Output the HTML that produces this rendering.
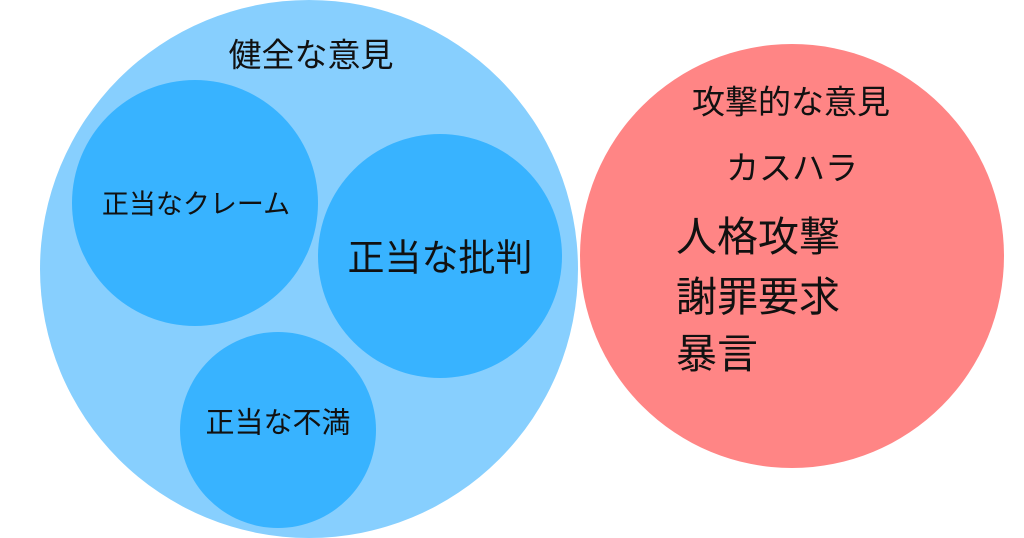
<!DOCTYPE html>
<html><head><meta charset="utf-8"><style>
html,body{margin:0;padding:0;background:#fff;}
body{width:1024px;height:538px;position:relative;overflow:hidden;font-family:"Liberation Sans","Noto Sans CJK JP",sans-serif;color:#111;}
.c{position:absolute;border-radius:50%;}
.t{position:absolute;white-space:nowrap;transform:translate(-50%,-50%);line-height:1;}
.l{position:absolute;white-space:nowrap;line-height:1;}
</style></head><body>
<div class="c" style="left:40px;top:0;width:538px;height:538px;background:#87cffe;"></div>
<div class="c" style="left:72px;top:80px;width:246px;height:246px;background:#38b3ff;"></div>
<div class="c" style="left:318px;top:134px;width:244px;height:244px;background:#38b3ff;"></div>
<div class="c" style="left:180px;top:332px;width:196px;height:196px;background:#38b3ff;"></div>
<div class="c" style="left:580px;top:44px;width:424px;height:424px;background:#ff8585;"></div>
<div class="t" style="left:311px;top:55px;font-size:33px;">健全な意見</div>
<div class="t" style="left:196px;top:205px;font-size:27px;">正当なクレーム</div>
<div class="t" style="left:440px;top:258px;font-size:37px;">正当な批判</div>
<div class="t" style="left:278px;top:424px;font-size:29px;">正当な不満</div>
<div class="t" style="left:791px;top:102px;font-size:33px;">攻撃的な意見</div>
<div class="t" style="left:792px;top:168px;font-size:33px;">カスハラ</div>
<div class="l" style="left:676px;top:217px;font-size:41px;">人格攻撃</div>
<div class="l" style="left:676px;top:277px;font-size:41px;">謝罪要求</div>
<div class="l" style="left:676px;top:334px;font-size:41px;">暴言</div>
</body></html>
